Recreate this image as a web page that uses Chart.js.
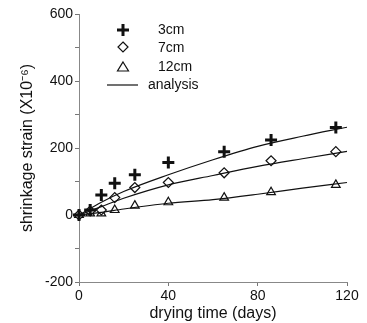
<!DOCTYPE html>
<html>
<head>
<meta charset="utf-8">
<script src="https://cdn.jsdelivr.net/npm/chart.js@4"></script>
<style>
  html, body { margin: 0; padding: 0; background: #fff; }
  #wrap { width: 367px; height: 323px; }
</style>
</head>
<body>
<div id="wrap"><canvas id="grafica" width="367" height="323"></canvas></div>
<script>
// measured points (days, strain x10^-6)
const dias = [0, 5, 10, 16, 25, 40, 65, 86, 115];
const strain3 = [0, 15, 60, 95, 120, 157, 189, 224, 261];
const strain7 = [0, 12, 15, 52, 82, 97, 126, 162, 189];
const strain12 = [0, 5, 5, 15, 28, 38, 52, 68, 90];

// analysis curves
const diasCurva = [0, 10, 20, 40, 60, 80, 100, 120];
const curva3 = [0, 38, 70, 120, 165, 205, 235, 262];
const curva7 = [0, 25, 50, 90, 118, 145, 168, 190];
const curva12 = [0, 8, 18, 35, 46, 62, 80, 97];

const yTicks = [-200, 0, 200, 400, 600];
const xTicks = [0, 40, 80, 120];

function puntos(xs, ys) {
  return xs.map((x, i) => ({ x: x, y: ys[i] }));
}

const canvas = document.getElementById("grafica");
const ctx = canvas.getContext("2d");
const fuente = "'Liberation Sans', Arial, sans-serif";

function curva(data) {
  return {
    type: "line",
    data: data,
    borderColor: "#111",
    borderWidth: 1.2,
    pointRadius: 0,
    cubicInterpolationMode: "monotone",
    fill: false,
    clip: false,
  };
}

// legend drawn inside the plot, like the original
const leyenda = {
  id: "leyenda",
  afterDraw(chart) {
    const c = chart.ctx;
    c.save();
    c.fillStyle = "#111";
    c.strokeStyle = "#111";
    c.font = "14px " + fuente;
    c.textBaseline = "middle";
    // cross
    c.lineWidth = 3;
    c.beginPath();
    c.moveTo(117, 30); c.lineTo(129, 30);
    c.moveTo(123, 24); c.lineTo(123, 36);
    c.stroke();
    // diamond
    c.lineWidth = 1.2;
    c.beginPath();
    c.moveTo(123, 42); c.lineTo(128, 47); c.lineTo(123, 52); c.lineTo(118, 47);
    c.closePath();
    c.stroke();
    // triangle
    c.beginPath();
    c.moveTo(123, 62); c.lineTo(128.5, 71); c.lineTo(117.5, 71);
    c.closePath();
    c.stroke();
    // line
    c.beginPath();
    c.moveTo(107, 85); c.lineTo(138, 85);
    c.stroke();
    c.fillText("3cm", 158, 30);
    c.fillText("7cm", 158, 48);
    c.fillText("12cm", 158, 67);
    c.fillText("analysis", 148, 85);
    c.restore();
  },
};

let grafico = new Chart(ctx, {
  type: "scatter",
  data: {
    datasets: [
      curva(puntos(diasCurva, curva3)),
      curva(puntos(diasCurva, curva7)),
      curva(puntos(diasCurva, curva12)),
      {
        label: "3cm",
        data: puntos(dias, strain3),
        pointStyle: "cross",
        pointRadius: 6,
        borderWidth: 3,
        borderColor: "#111",
        clip: false,
      },
      {
        label: "7cm",
        data: puntos(dias, strain7),
        pointStyle: "rectRot",
        pointRadius: 5,
        borderWidth: 1.2,
        borderColor: "#111",
        backgroundColor: "#fff",
        clip: false,
      },
      {
        label: "12cm",
        data: puntos(dias, strain12),
        pointStyle: "triangle",
        pointRadius: 5,
        borderWidth: 1.2,
        borderColor: "#111",
        backgroundColor: "#fff",
        clip: false,
      },
    ],
  },
  options: {
    responsive: false,
    animation: false,
    layout: { padding: { top: 14, right: 20, left: 0, bottom: 0 } },
    plugins: {
      legend: { display: false },
      tooltip: { enabled: false },
    },
    scales: {
      x: {
        type: "linear",
        min: 0,
        max: 120,
        afterBuildTicks: (axis) => { axis.ticks = xTicks.map((v) => ({ value: v })); },
        afterFit: (axis) => { axis.height = 41; },
        grid: { drawOnChartArea: false, tickLength: 4, color: "#777" },
        border: { color: "#888", dash: [1, 2] },
        ticks: { color: "#111", font: { size: 14, family: fuente }, padding: 2, maxRotation: 0 },
        title: {
          display: true,
          text: "drying time (days)",
          color: "#111",
          font: { size: 16, family: fuente },
          padding: { top: 0, bottom: 0 },
        },
      },
      y: {
        type: "linear",
        min: -200,
        max: 600,
        afterBuildTicks: (axis) => {
          const t = [];
          for (let v = -200; v <= 600; v += 100) t.push({ value: v });
          axis.ticks = t;
        },
        afterFit: (axis) => { axis.width = 79; },
        grid: { drawOnChartArea: false, tickLength: 4, color: "#777" },
        border: { color: "#888", dash: [1, 2] },
        ticks: {
          color: "#111",
          font: { size: 14, family: fuente },
          padding: 2,
          callback: (v) => (yTicks.includes(v) ? String(v) : ""),
        },
        title: {
          display: true,
          text: "shrinkage strain (X10⁻⁶)",
          color: "#111",
          font: { size: 16, family: fuente },
          padding: { top: 18, bottom: 0 },
        },
      },
    },
  },
  plugins: [leyenda],
});
</script>
</body>
</html>
